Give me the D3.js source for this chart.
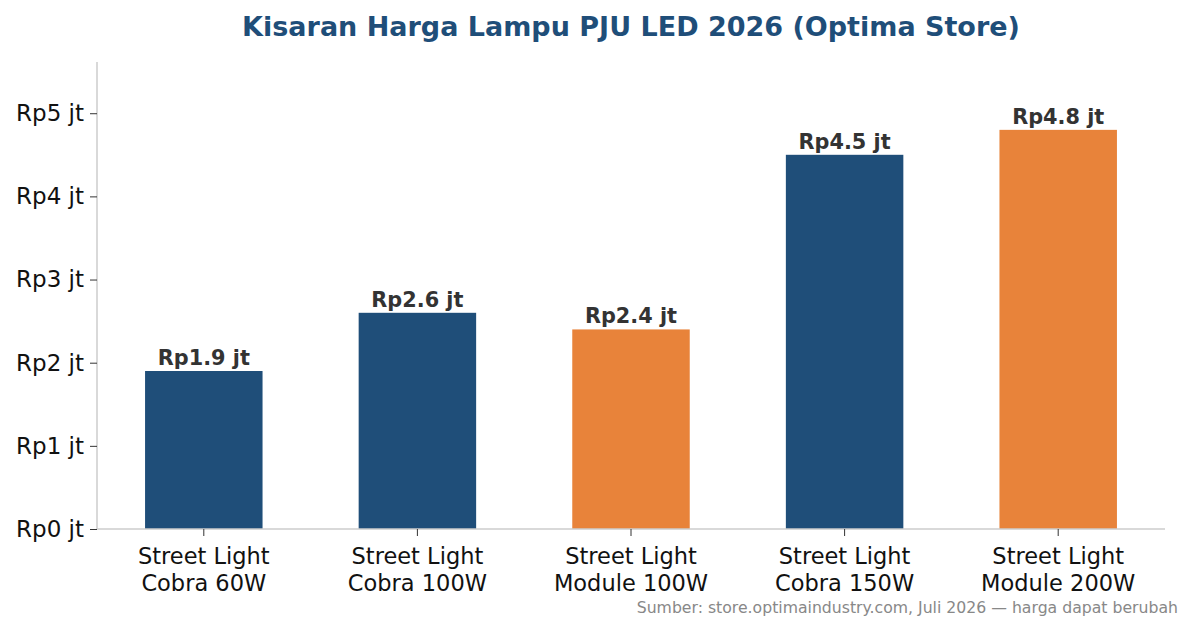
<!DOCTYPE html>
<html>
<head>
<meta charset="utf-8">
<script src="https://cdn.jsdelivr.net/npm/d3@7"></script>
<style>
  body { margin: 0; background: #fff; }
  text { font-family: "DejaVu Sans", sans-serif; }
</style>
</head>
<body>
<svg id="chart" width="1193" height="631"></svg>
<script>
// data
var products = [
  ["Street Light", "Cobra 60W"],
  ["Street Light", "Cobra 100W"],
  ["Street Light", "Module 100W"],
  ["Street Light", "Cobra 150W"],
  ["Street Light", "Module 200W"]
];
var prices = [1.9, 2.6, 2.4, 4.5, 4.8];   // juta rupiah
var barColors = ["#1f4e79", "#1f4e79", "#e8833a", "#1f4e79", "#e8833a"];
var yTicks = [0, 1, 2, 3, 4, 5];

var svg = d3.select("#chart"),
    margin = {top: 62, right: 28, bottom: 102, left: 97},
    width = +svg.attr("width") - margin.left - margin.right,
    height = +svg.attr("height") - margin.top - margin.bottom,
    g = svg.append("g").attr("transform", "translate(" + margin.left + "," + margin.top + ")");

var x = d3.scaleBand()
    .domain(d3.range(prices.length))
    .range([0, width])
    .paddingInner(0.45)
    .paddingOuter(0.225);

var y = d3.scaleLinear()
    .domain([0, d3.max(prices) * 1.17])
    .range([height, 0]);

// title
svg.append("text")
    .attr("x", 631)
    .attr("y", 36)
    .attr("text-anchor", "middle")
    .attr("fill", "#1f4e79")
    .style("font-size", "27px")
    .style("font-weight", "bold")
    .text("Kisaran Harga Lampu PJU LED 2026 (Optima Store)");

// bars
g.selectAll("rect.bar")
  .data(prices)
  .enter().append("rect")
    .attr("class", "bar")
    .attr("x", function(d, i) { return x(i); })
    .attr("y", function(d) { return y(d); })
    .attr("width", x.bandwidth())
    .attr("height", function(d) { return height - y(d); })
    .attr("fill", function(d, i) { return barColors[i]; });

// value labels
g.selectAll("text.val")
  .data(prices)
  .enter().append("text")
    .attr("class", "val")
    .attr("x", function(d, i) { return x(i) + x.bandwidth() / 2; })
    .attr("y", function(d) { return y(d) - 6; })
    .attr("text-anchor", "middle")
    .attr("fill", "#333")
    .style("font-size", "20.8px")
    .style("font-weight", "bold")
    .text(function(d) { return "Rp" + d.toFixed(1) + " jt"; });

// y axis
var yAxis = g.append("g")
    .call(d3.axisLeft(y).tickValues(yTicks).tickSize(7).tickPadding(6)
      .tickFormat(function(d) { return "Rp" + d + " jt"; }));
yAxis.select(".domain").attr("stroke", "#cccccc").attr("stroke-width", 1.5).attr("d", "M0," + height + "V0");
yAxis.selectAll(".tick line").attr("stroke", "#333");
yAxis.selectAll(".tick text")
    .attr("fill", "#111")
    .style("font-size", "23px")
    .style("font-family", "DejaVu Sans");

// x axis
var xAxis = g.append("g")
    .attr("transform", "translate(0," + height + ")")
    .call(d3.axisBottom(x).tickSize(7).tickFormat(""));
xAxis.select(".domain").attr("stroke", "#cccccc").attr("stroke-width", 1.5).attr("d", "M0,0H" + width);
xAxis.selectAll(".tick line").attr("stroke", "#333");
xAxis.selectAll(".tick").each(function(d) {
  var t = d3.select(this).append("text")
      .attr("fill", "#111")
      .attr("text-anchor", "middle")
      .style("font-size", "22.5px")
      .style("font-family", "DejaVu Sans");
  products[d].forEach(function(line, k) {
    t.append("tspan").attr("x", 0).attr("y", 35 + k * 27).text(line);
  });
});

// source note
svg.append("text")
    .attr("x", 1178)
    .attr("y", 613)
    .attr("text-anchor", "end")
    .attr("fill", "#888")
    .style("font-size", "15.7px")
    .text("Sumber: store.optimaindustry.com, Juli 2026 \u2014 harga dapat berubah");
</script>
</body>
</html>
